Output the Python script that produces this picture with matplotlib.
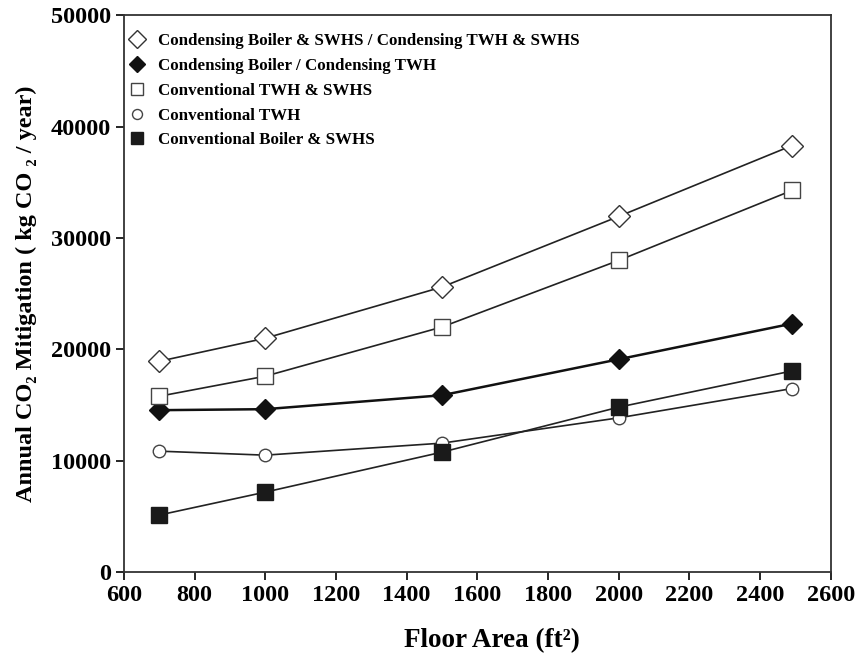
import matplotlib
matplotlib.use("Agg")
import matplotlib.pyplot as plt
from matplotlib.lines import Line2D

floor_area = [700, 1000, 1500, 2000, 2490]
cond_boiler_swhs = [18920, 20990, 25590, 31930, 38290]
cond_boiler = [14530, 14620, 15870, 19100, 22300]
conv_twh_swhs = [15780, 17580, 22000, 27980, 34260]
conv_twh = [10850, 10490, 11570, 13840, 16470]
conv_boiler_swhs = [5110, 7170, 10760, 14800, 18050]

labels = [
    "Condensing Boiler & SWHS / Condensing TWH & SWHS",
    "Condensing Boiler / Condensing TWH",
    "Conventional TWH & SWHS",
    "Conventional TWH",
    "Conventional Boiler & SWHS",
]
xticks = [600, 800, 1000, 1200, 1400, 1600, 1800, 2000, 2200, 2400, 2600]
yticks = [0, 10000, 20000, 30000, 40000, 50000]

plt.rcParams['font.family'] = ['Liberation Serif', 'DejaVu Serif']
plt.rcParams['font.weight'] = 'bold'

fig = plt.figure(figsize=(8.6, 6.62), dpi=100)
ax = fig.add_axes([0.144, 0.136, 0.822, 0.841])

styles = [
    dict(color='#222222', lw=1.2, marker='D', ms=11, mfc='white', mec='#333333', mew=1.0),
    dict(color='#111111', lw=1.8, marker='D', ms=10, mfc='#111111', mec='#111111', mew=1.0),
    dict(color='#222222', lw=1.2, marker='s', ms=11, mfc='white', mec='#444444', mew=1.0),
    dict(color='#222222', lw=1.2, marker='o', ms=9, mfc='white', mec='#444444', mew=1.0),
    dict(color='#222222', lw=1.2, marker='s', ms=11, mfc='#1a1a1a', mec='#1a1a1a', mew=1.0),
]
series = [cond_boiler_swhs, cond_boiler, conv_twh_swhs, conv_twh, conv_boiler_swhs]
for vals, st in zip(series, styles):
    ax.plot(floor_area, vals, **st)

ax.set_xlim(600, 2600)
ax.set_ylim(0, 50000)
ax.set_xticks(xticks)
ax.set_yticks(yticks)
ax.tick_params(direction='out', length=6, width=1.2, labelsize=17.5)
for lab in ax.get_xticklabels() + ax.get_yticklabels():
    lab.set_fontweight('bold')
for s in ax.spines.values():
    s.set_linewidth(1.3)
    s.set_color('#333333')

ax.set_xlabel("Floor Area (ft²)", fontsize=19.5, fontweight='bold')
ax.xaxis.set_label_coords(0.52, -0.1)
ax.set_ylabel("Annual CO₂ Mitigation ( kg CO ₂ / year)", fontsize=17.5,
              fontweight='bold', labelpad=10)

handles = []
for st in styles:
    h = {k: v for k, v in st.items() if k not in ('color', 'lw')}
    h['ms'] = st['ms'] * 0.8
    handles.append(Line2D([], [], linestyle='none', **h))
leg = ax.legend(handles, labels, loc='upper left', frameon=False, fontsize=12.2,
                handlelength=0.8, handletextpad=0.8, labelspacing=0.52,
                borderaxespad=0.0, bbox_to_anchor=(0.0, 0.98))
for t in leg.get_texts():
    t.set_fontweight('bold')

fig.savefig("out.png", dpi=100)
